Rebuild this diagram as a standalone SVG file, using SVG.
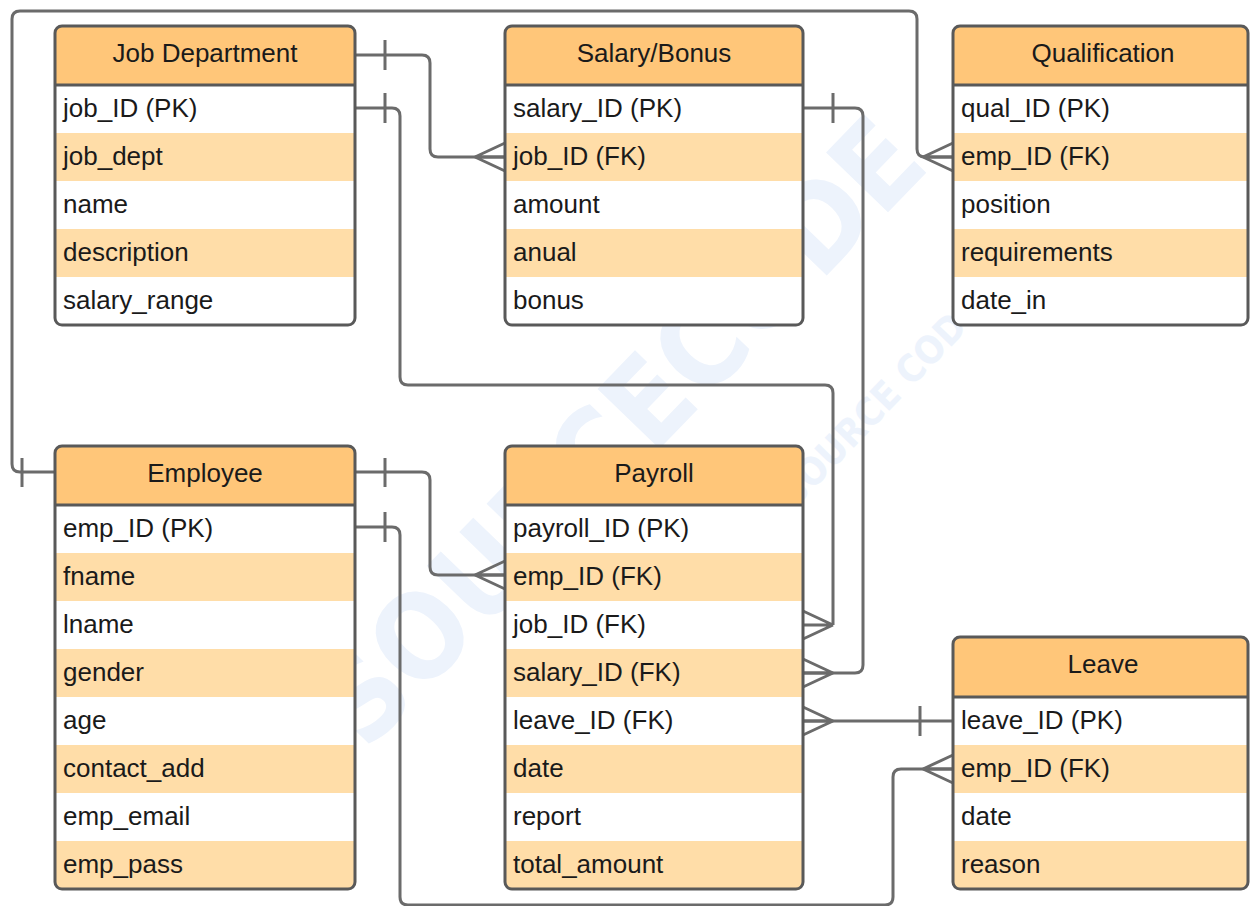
<svg xmlns="http://www.w3.org/2000/svg" width="1250" height="906" viewBox="0 0 1250 906">
<style>
  .hdr { fill: #FFC679; }
  .w { fill: #FFFFFF; }
  .o { fill: #FFDDA8; }
  .border { fill: none; stroke: #595959; stroke-width: 3; }
  .sep { stroke: #595959; stroke-width: 3; }
  .title { font-family: "Liberation Sans", Arial, sans-serif; font-size: 26px; fill: #1a1a1a; text-anchor: middle; }
  .attr { font-family: "Liberation Sans", Arial, sans-serif; font-size: 26px; fill: #1a1a1a; }
  .conn path { fill: none; stroke: #6b6b6b; stroke-width: 3; stroke-linejoin: round; }
  .wm { font-family: "DejaVu Sans Condensed", "DejaVu Sans", sans-serif; font-weight: bold; fill: #edf3fc; }
</style>
<defs>
  <clipPath id="cJob"><rect x="55" y="26" width="300" height="299" rx="7"/></clipPath>
  <clipPath id="cSal"><rect x="505" y="26" width="298" height="299" rx="7"/></clipPath>
  <clipPath id="cQual"><rect x="953" y="26" width="295" height="299" rx="7"/></clipPath>
  <clipPath id="cEmp"><rect x="55" y="446" width="300" height="443" rx="7"/></clipPath>
  <clipPath id="cPay"><rect x="505" y="446" width="298" height="443" rx="7"/></clipPath>
  <clipPath id="cLeave"><rect x="953" y="637" width="295" height="252" rx="7"/></clipPath>
</defs>
<rect width="1250" height="906" fill="#FFFFFF"/>

<g id="watermark">
  <text class="wm" x="610" y="500" font-size="118" text-anchor="middle" transform="rotate(-46 610 500)">ITSOURCECODE</text>
  <text class="wm" x="890" y="410" font-size="38" text-anchor="middle" transform="rotate(-46 890 410)">SOURCE CODE</text>
</g>

<g id="connectors" class="conn">
  <!-- Job Department -> Salary/Bonus job_ID (FK) -->
  <path d="M355,55 H422 Q430,55 430,63 V149 Q430,157 438,157 H505"/>
  <path d="M385,40 V70"/>
  <path d="M475,157 L505,143 M475,157 L505,157 M475,157 L505,171"/>
  <!-- Job Department job_ID -> Payroll job_ID (FK) -->
  <path d="M355,108 H392 Q400,108 400,116 V377 Q400,385 408,385 H825 Q833,385 833,393 V625"/>
  <path d="M385,93 V123"/>
  <path d="M833,625 L803,611 M833,625 L803,625 M833,625 L803,639"/>
  <!-- Salary/Bonus salary_ID -> Payroll salary_ID (FK) -->
  <path d="M803,108 H855 Q863,108 863,116 V665 Q863,673 855,673 H803"/>
  <path d="M833,93 V123"/>
  <path d="M833,673 L803,659 M833,673 L803,673 M833,673 L803,687"/>
  <!-- Employee -> Qualification emp_ID (FK) -->
  <path d="M55,472 H20 Q12,472 12,464 V19 Q12,11 20,11 H909 Q917,11 917,19 V149 Q917,157 925,157 H953"/>
  <path d="M22,458 V487"/>
  <path d="M923,157 L953,143 M923,157 L953,157 M923,157 L953,171"/>
  <!-- Employee -> Payroll emp_ID (FK) -->
  <path d="M355,472 H422 Q430,472 430,480 V567 Q430,575 438,575 H505"/>
  <path d="M385,458 V487"/>
  <path d="M475,575 L505,561 M475,575 L505,575 M475,575 L505,589"/>
  <!-- Employee emp_ID -> Leave emp_ID (FK) -->
  <path d="M355,527 H392 Q400,527 400,535 V897 Q400,905 408,905 H885 Q893,905 893,897 V777 Q893,769 901,769 H953"/>
  <path d="M385,512 V542"/>
  <path d="M923,769 L953,755 M923,769 L953,769 M923,769 L953,783"/>
  <!-- Payroll leave_ID (FK) -> Leave leave_ID -->
  <path d="M803,721 H953"/>
  <path d="M920,706 V736"/>
  <path d="M833,721 L803,707 M833,721 L803,721 M833,721 L803,735"/>
</g>

<g id="job-department">
  <g clip-path="url(#cJob)">
    <rect class="hdr" x="55" y="26" width="300" height="59"/>
    <rect class="w" x="55" y="85" width="300" height="48"/>
    <rect class="o" x="55" y="133" width="300" height="48"/>
    <rect class="w" x="55" y="181" width="300" height="48"/>
    <rect class="o" x="55" y="229" width="300" height="48"/>
    <rect class="w" x="55" y="277" width="300" height="48"/>
  </g>
  <line class="sep" x1="55" y1="85" x2="355" y2="85"/>
  <rect class="border" x="55" y="26" width="300" height="299" rx="7"/>
  <text class="title" x="205" y="62">Job Department</text>
  <text class="attr" x="63" y="117">job_ID (PK)</text>
  <text class="attr" x="63" y="165">job_dept</text>
  <text class="attr" x="63" y="213">name</text>
  <text class="attr" x="63" y="261">description</text>
  <text class="attr" x="63" y="309">salary_range</text>
</g>

<g id="salary-bonus">
  <g clip-path="url(#cSal)">
    <rect class="hdr" x="505" y="26" width="298" height="59"/>
    <rect class="w" x="505" y="85" width="298" height="48"/>
    <rect class="o" x="505" y="133" width="298" height="48"/>
    <rect class="w" x="505" y="181" width="298" height="48"/>
    <rect class="o" x="505" y="229" width="298" height="48"/>
    <rect class="w" x="505" y="277" width="298" height="48"/>
  </g>
  <line class="sep" x1="505" y1="85" x2="803" y2="85"/>
  <rect class="border" x="505" y="26" width="298" height="299" rx="7"/>
  <text class="title" x="654" y="62">Salary/Bonus</text>
  <text class="attr" x="513" y="117">salary_ID (PK)</text>
  <text class="attr" x="513" y="165">job_ID (FK)</text>
  <text class="attr" x="513" y="213">amount</text>
  <text class="attr" x="513" y="261">anual</text>
  <text class="attr" x="513" y="309">bonus</text>
</g>

<g id="qualification">
  <g clip-path="url(#cQual)">
    <rect class="hdr" x="953" y="26" width="295" height="59"/>
    <rect class="w" x="953" y="85" width="295" height="48"/>
    <rect class="o" x="953" y="133" width="295" height="48"/>
    <rect class="w" x="953" y="181" width="295" height="48"/>
    <rect class="o" x="953" y="229" width="295" height="48"/>
    <rect class="w" x="953" y="277" width="295" height="48"/>
  </g>
  <line class="sep" x1="953" y1="85" x2="1248" y2="85"/>
  <rect class="border" x="953" y="26" width="295" height="299" rx="7"/>
  <text class="title" x="1103" y="62">Qualification</text>
  <text class="attr" x="961" y="117">qual_ID (PK)</text>
  <text class="attr" x="961" y="165">emp_ID (FK)</text>
  <text class="attr" x="961" y="213">position</text>
  <text class="attr" x="961" y="261">requirements</text>
  <text class="attr" x="961" y="309">date_in</text>
</g>

<g id="employee">
  <g clip-path="url(#cEmp)">
    <rect class="hdr" x="55" y="446" width="300" height="59"/>
    <rect class="w" x="55" y="505" width="300" height="48"/>
    <rect class="o" x="55" y="553" width="300" height="48"/>
    <rect class="w" x="55" y="601" width="300" height="48"/>
    <rect class="o" x="55" y="649" width="300" height="48"/>
    <rect class="w" x="55" y="697" width="300" height="48"/>
    <rect class="o" x="55" y="745" width="300" height="48"/>
    <rect class="w" x="55" y="793" width="300" height="48"/>
    <rect class="o" x="55" y="841" width="300" height="48"/>
  </g>
  <line class="sep" x1="55" y1="505" x2="355" y2="505"/>
  <rect class="border" x="55" y="446" width="300" height="443" rx="7"/>
  <text class="title" x="205" y="482">Employee</text>
  <text class="attr" x="63" y="537">emp_ID (PK)</text>
  <text class="attr" x="63" y="585">fname</text>
  <text class="attr" x="63" y="633">lname</text>
  <text class="attr" x="63" y="681">gender</text>
  <text class="attr" x="63" y="729">age</text>
  <text class="attr" x="63" y="777">contact_add</text>
  <text class="attr" x="63" y="825">emp_email</text>
  <text class="attr" x="63" y="873">emp_pass</text>
</g>

<g id="payroll">
  <g clip-path="url(#cPay)">
    <rect class="hdr" x="505" y="446" width="298" height="59"/>
    <rect class="w" x="505" y="505" width="298" height="48"/>
    <rect class="o" x="505" y="553" width="298" height="48"/>
    <rect class="w" x="505" y="601" width="298" height="48"/>
    <rect class="o" x="505" y="649" width="298" height="48"/>
    <rect class="w" x="505" y="697" width="298" height="48"/>
    <rect class="o" x="505" y="745" width="298" height="48"/>
    <rect class="w" x="505" y="793" width="298" height="48"/>
    <rect class="o" x="505" y="841" width="298" height="48"/>
  </g>
  <line class="sep" x1="505" y1="505" x2="803" y2="505"/>
  <rect class="border" x="505" y="446" width="298" height="443" rx="7"/>
  <text class="title" x="654" y="482">Payroll</text>
  <text class="attr" x="513" y="537">payroll_ID (PK)</text>
  <text class="attr" x="513" y="585">emp_ID (FK)</text>
  <text class="attr" x="513" y="633">job_ID (FK)</text>
  <text class="attr" x="513" y="681">salary_ID (FK)</text>
  <text class="attr" x="513" y="729">leave_ID (FK)</text>
  <text class="attr" x="513" y="777">date</text>
  <text class="attr" x="513" y="825">report</text>
  <text class="attr" x="513" y="873">total_amount</text>
</g>

<g id="leave">
  <g clip-path="url(#cLeave)">
    <rect class="hdr" x="953" y="637" width="295" height="60"/>
    <rect class="w" x="953" y="697" width="295" height="48"/>
    <rect class="o" x="953" y="745" width="295" height="48"/>
    <rect class="w" x="953" y="793" width="295" height="48"/>
    <rect class="o" x="953" y="841" width="295" height="48"/>
  </g>
  <line class="sep" x1="953" y1="697" x2="1248" y2="697"/>
  <rect class="border" x="953" y="637" width="295" height="252" rx="7"/>
  <text class="title" x="1103" y="673">Leave</text>
  <text class="attr" x="961" y="729">leave_ID (PK)</text>
  <text class="attr" x="961" y="777">emp_ID (FK)</text>
  <text class="attr" x="961" y="825">date</text>
  <text class="attr" x="961" y="873">reason</text>
</g>
</svg>
